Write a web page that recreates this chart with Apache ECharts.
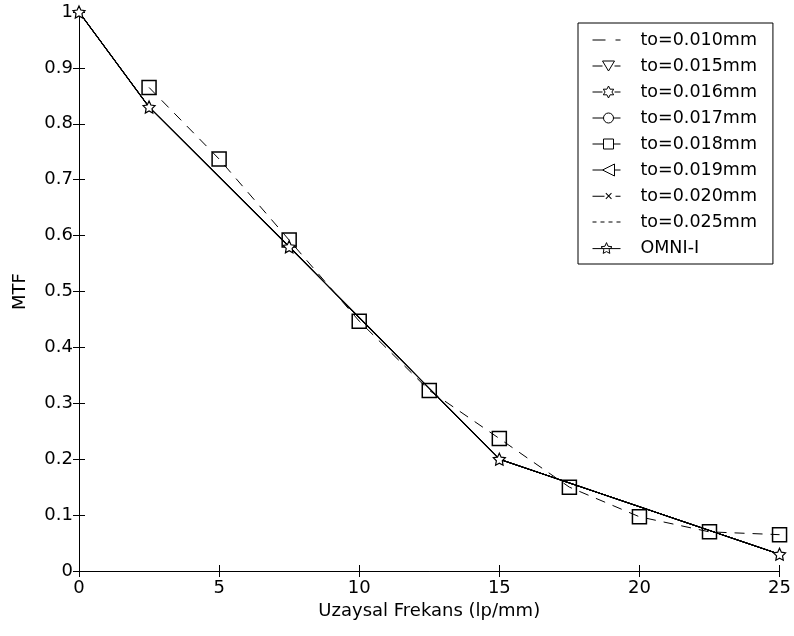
<!DOCTYPE html>
<html>
<head>
<meta charset="utf-8">
<script src="https://cdn.jsdelivr.net/npm/echarts@6/dist/echarts.min.js"></script>
<style>
  html, body { margin: 0; padding: 0; background: #fff; }
  #chart { width: 794px; height: 636px; }
</style>
</head>
<body>
<div id="chart"></div>
<script>
// frequencies (lp/mm) and MTF
const freqSim = [2.5, 5, 7.5, 10, 12.5, 15, 17.5, 20, 22.5, 25];
const mtfSim = [0.865, 0.737, 0.592, 0.447, 0.323, 0.237, 0.150, 0.097, 0.070, 0.065];

const freqOmni = [0, 2.5, 7.5, 15, 25];
const mtfOmni = [1.0, 0.830, 0.580, 0.200, 0.030];

const seriesNames = ['to=0.010mm', 'to=0.015mm', 'to=0.016mm', 'to=0.017mm',
  'to=0.018mm', 'to=0.019mm', 'to=0.020mm', 'to=0.025mm', 'OMNI-I'];

const FONT = 'DejaVu Sans, Liberation Sans, sans-serif';
const pairs = (xs, ys) => xs.map((x, i) => [x, ys[i]]);

const starPath = 'path://M0,-10L2.9,-4L9.5,-3.1L4.7,1.5L5.9,8.1L0,5L-5.9,8.1L-4.7,1.5L-9.5,-3.1L-2.9,-4Z';
const hexStar = 'path://M0,-10L3,-5L9,-5L6,0L9,5L3,5L0,10L-3,5L-9,5L-6,0L-9,-5L-3,-5Z';

// legend icons, 28 x 12 box, line through the middle
const icons = [
  'path://M0,5.5h13v1h-13Z M23,5.5h5v1h-5Z',
  'path://M0,6H10 M22,6H28 M10,1L22,1L16,11Z',
  'path://M0,6H10 M22,6H28 M16,0L17.6,3.2L21.2,3.2L19.4,6L21.2,8.8L17.6,8.8L16,12L14.4,8.8L10.8,8.8L12.6,6L10.8,3.2L14.4,3.2Z',
  'path://M0,6H11 M21,6H28 M21,6A5,5 0 1 1 11,6A5,5 0 1 1 21,6Z',
  'path://M0,6H11 M21,6H28 M11,1H21V11H11Z',
  'path://M0,6H10 M22,6H28 M10,6L22,0L22,12Z',
  'path://M0,5.5h12v1h-12Z M13,3.2L18.6,8.8L19.3,8.1L13.7,2.5Z M18.6,2.5L13,8.1L13.7,8.8L19.3,3.2Z M23,5.5h5v1h-5Z',
  'path://M0,5.5h4v1h-4Z M8,5.5h4v1h-4Z M16,5.5h4v1h-4Z M24,5.5h4v1h-4Z',
  'path://M0,6H28 M14,0L15.5,3.6L19.5,4.2L16.6,6.9L17.3,10.8L14,9L10.7,10.8L11.4,6.9L8.5,4.2L12.5,3.6Z'
];
const filledIcon = [true, false, false, false, false, false, true, true, false];

const chart = echarts.init(document.getElementById('chart'));

// series drawn under the OMNI-I curve (not distinguishable in the plot)
function hidden(name, symbol, dash) {
  return {
    name: name, type: 'line', data: pairs(freqOmni, mtfOmni),
    symbol: symbol, symbolSize: 9, showSymbol: false,
    lineStyle: { color: '#000', width: 1, type: dash || 'solid' },
    itemStyle: { color: '#fff', borderColor: '#000', borderWidth: 1 },
    z: 1, silent: true
  };
}

chart.setOption({
  animation: false,
  backgroundColor: '#fff',
  textStyle: { fontFamily: FONT, color: '#000' },
  grid: { left: 79, right: 2, top: 12, bottom: 65 },
  legend: {
    data: seriesNames.map((n, i) => ({
      name: n,
      icon: icons[i],
      itemStyle: filledIcon[i]
        ? { color: '#000', borderWidth: 0 }
        : { color: '#fff', borderColor: '#000', borderWidth: 1 }
    })),
    orient: 'vertical',
    left: 578, top: 23,
    backgroundColor: '#fff',
    borderColor: '#000', borderWidth: 1,
    padding: [7, 16, 6, 14],
    itemGap: 6,
    itemWidth: 28, itemHeight: 12,
    symbolKeepAspect: true,
    textStyle: {
      fontSize: 17.5, lineHeight: 20, color: '#000', fontFamily: FONT,
      padding: [0, 0, 0, 15]
    }
  },
  xAxis: [{
    type: 'value', min: 0, max: 25, interval: 5,
    name: 'Uzaysal Frekans (lp/mm)', nameLocation: 'middle', nameGap: 31,
    nameTextStyle: { fontSize: 18, color: '#000', fontFamily: FONT },
    axisLine: { lineStyle: { color: '#000', width: 1 } },
    axisTick: { inside: true, length: 6, lineStyle: { color: '#000' } },
    axisLabel: { fontSize: 18, color: '#000', margin: 8, fontFamily: FONT },
    splitLine: { show: false }
  }, {
    type: 'value', position: 'top', min: 0, max: 25, interval: 5,
    axisLine: { show: true, lineStyle: { color: '#000' } },
    axisTick: { inside: true, length: 6, lineStyle: { color: '#000' } },
    axisLabel: { show: false }, splitLine: { show: false }
  }],
  yAxis: [{
    type: 'value', min: 0, max: 1, interval: 0.1,
    name: 'MTF', nameLocation: 'middle', nameGap: 50, nameRotate: 90,
    nameTextStyle: { fontSize: 18, color: '#000', fontFamily: FONT },
    axisLine: { show: true, lineStyle: { color: '#000', width: 1 } },
    axisTick: { show: true, inside: true, length: 6, lineStyle: { color: '#000' } },
    axisLabel: { fontSize: 18, color: '#000', margin: 6, fontFamily: FONT },
    splitLine: { show: false }
  }, {
    type: 'value', position: 'right', min: 0, max: 1, interval: 0.1,
    axisLine: { show: true, lineStyle: { color: '#000' } },
    axisTick: { show: true, inside: true, length: 6, lineStyle: { color: '#000' } },
    axisLabel: { show: false }, splitLine: { show: false }
  }],
  series: [
    {
      name: seriesNames[0], type: 'line', data: pairs(freqSim, mtfSim),
      symbol: 'none',
      lineStyle: { color: '#000', width: 1, type: [10, 8] },
      itemStyle: { color: '#000' }, z: 3
    },
    hidden(seriesNames[1], 'triangle'),
    hidden(seriesNames[2], hexStar),
    hidden(seriesNames[3], 'emptyCircle'),
    {
      name: seriesNames[4], type: 'line', data: pairs(freqSim, mtfSim),
      symbol: 'rect', symbolSize: 14,
      lineStyle: { width: 0, color: '#000' },
      itemStyle: { color: 'rgba(255,255,255,0)', borderColor: '#000', borderWidth: 1.5 },
      z: 4
    },
    hidden(seriesNames[5], 'path://M-10,0L8,-10L8,10Z'),
    hidden(seriesNames[6], 'path://M-6,-6L6,6M6,-6L-6,6'),
    hidden(seriesNames[7], 'none', [3, 3]),
    {
      name: seriesNames[8], type: 'line', data: pairs(freqOmni, mtfOmni),
      symbol: starPath, symbolSize: 12,
      lineStyle: { color: '#000', width: 1.2 },
      itemStyle: { color: '#fff', borderColor: '#000', borderWidth: 1.2 },
      z: 5
    }
  ]
});
</script>
</body>
</html>
